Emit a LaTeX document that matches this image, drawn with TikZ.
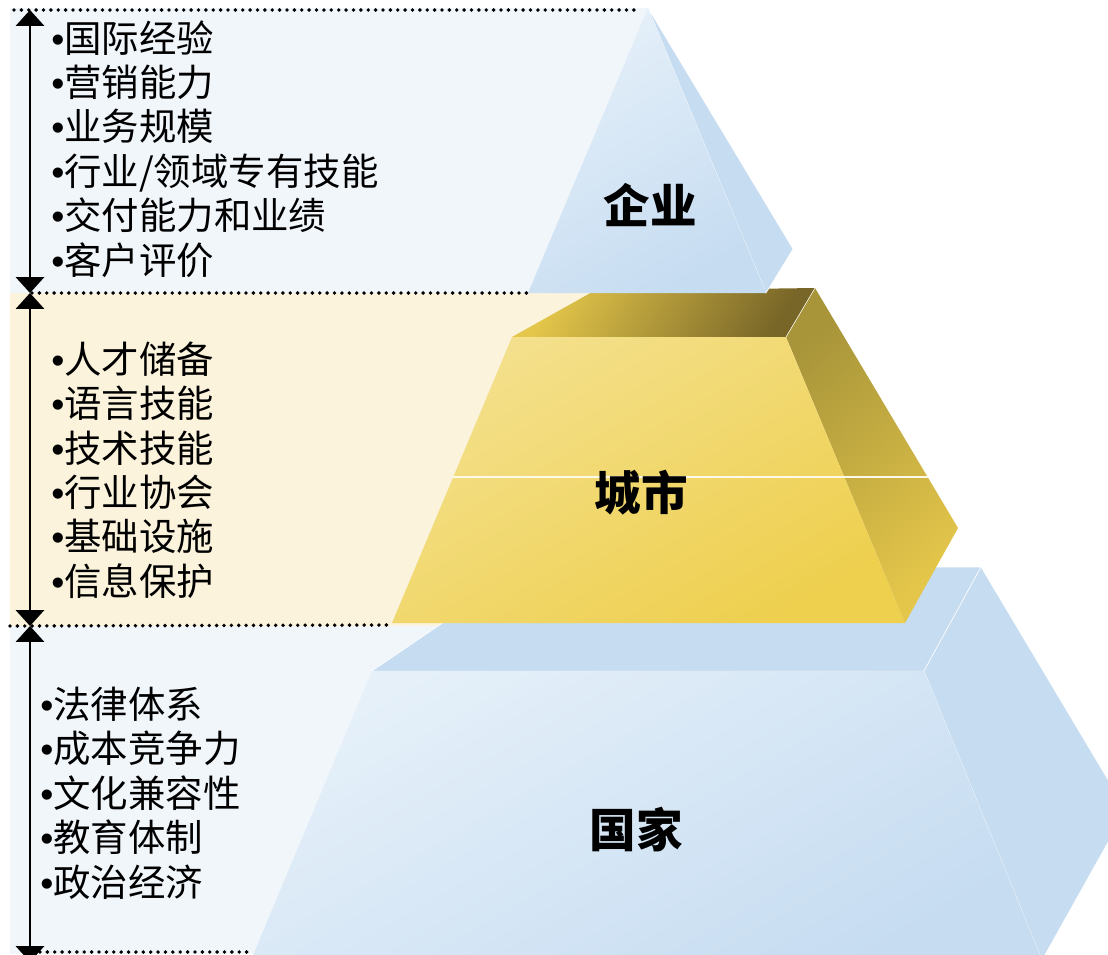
\documentclass[tikz,border=0pt]{standalone}
\usepackage{fontspec}
\setmainfont{Liberation Sans}
\newfontfamily\cjk{Noto Sans CJK SC}
\usetikzlibrary{arrows.meta}
\definecolor{bandblue}{HTML}{F1F6FB}
\definecolor{bandcream}{HTML}{FBF3DC}
\definecolor{blueface}{HTML}{C6DCF1}
\definecolor{bluelight}{HTML}{E5F0F9}
\definecolor{goldlight}{HTML}{F4E08C}
\definecolor{golddark}{HTML}{EECF4E}
\definecolor{goldtop}{HTML}{E4C64A}
\definecolor{olive}{HTML}{786628}
\definecolor{oliveside}{HTML}{A8953A}
\newcommand\bul{{\rmfamily\textbullet}}
\tikzset{
  dotline/.style={line width=2.2pt,line cap=round,dash pattern=on 0pt off 4.2pt},
  bothtips/.style={{Triangle[width=16pt,length=9pt]}-{Triangle[width=16pt,length=9pt]},line width=1.2pt},
  listtext/.style={anchor=west,inner sep=0pt,align=left,font=\cjk\fontsize{21.3}{25.3}\selectfont},
  tiertext/.style={inner sep=0pt,font=\cjk\bfseries\fontsize{26.5}{30}\selectfont}
}

\begin{document}
\begin{tikzpicture}[x=0.02cm,y=-0.02cm]
  \useasboundingbox (0,0) rectangle (1108,954);
  \clip (0,0) rectangle (1108,954);
  \fill[bandblue] (10,8) rectangle (648,293);
  \fill[bandcream] (10,293) rectangle (600,626);
  \fill[bandblue] (10,626) rectangle (450,954);
  \coordinate (d1) at (14,10);
  \coordinate (d2) at (640,10);
  \coordinate (d3) at (32,293);
  \coordinate (d4) at (528,293);
  \coordinate (d5) at (10,626);
  \coordinate (d6) at (390,625);
  \coordinate (d7) at (40,952);
  \coordinate (d8) at (248,952);
  \draw[dotline] (d1) -- (d2);
  \draw[dotline] (d3) -- (d4);
  \draw[dotline] (d5) -- (d6);
  \draw[dotline] (d7) -- (d8);
  \coordinate (r1) at (30,10);
  \coordinate (r2) at (30,293);
  \coordinate (r3) at (30,626);
  \coordinate (r4) at (30,962);
  \draw[bothtips] (r1) -- (r2);
  \draw[bothtips] (r2) -- (r3);
  \draw[bothtips] (r3) -- (r4);
  % nation
  \coordinate (n1) at (372,671);
  \coordinate (n2) at (924,671);
  \coordinate (n3) at (981,567);
  \coordinate (n4) at (525,567);
  \coordinate (n5) at (1126,810);
  \coordinate (n6) at (1042,960);
  \coordinate (n7) at (251,960);
  \filldraw[fill=blueface,draw=white,line width=0.3pt]
    (n1) -- (n4) -- (n3) -- (n2) -- cycle;
  \filldraw[fill=blueface,draw=white,line width=0.3pt]
    (n2) -- (n3) -- (n5) -- (n6) -- cycle;
  \shade[top color=bluelight,bottom color=blueface,shading angle=30]
    (n1) -- (n2) -- (n6) -- (n7) -- cycle;
  % city
  \coordinate (c1) at (512,337);
  \coordinate (c2) at (786,337);
  \coordinate (c3) at (815,288);
  \coordinate (c4) at (594,291);
  \coordinate (c5) at (958,528);
  \coordinate (c6) at (905,623);
  \coordinate (c7) at (392,623);
  \coordinate (c8) at (453,477);
  \coordinate (c9) at (928,477);
  \shade[top color=goldtop,bottom color=olive,shading angle=60]
    (c1) -- (c4) -- (c3) -- (c2) -- cycle;
  \shade[top color=oliveside,bottom color=goldtop,shading angle=40]
    (c2) -- (c3) -- (c5) -- (c6) -- cycle;
  \shade[top color=goldlight,bottom color=golddark,shading angle=30]
    (c1) -- (c2) -- (c6) -- (c7) -- cycle;
  \draw[white,line width=0.3pt] (c2) -- (c3);
  \draw[white!80!goldlight,line width=0.8pt] (c8) -- (c9);
  % enterprise
  \coordinate (e1) at (648,8);
  \coordinate (e2) at (793,249);
  \coordinate (e3) at (766,293);
  \coordinate (e4) at (528,293);
  \filldraw[fill=blueface,draw=white,line width=0.3pt]
    (e1) -- (e2) -- (e3) -- cycle;
  \shade[top color=bluelight,bottom color=blueface,shading angle=30]
    (e1) -- (e3) -- (e4) -- cycle;
  \node[tiertext] (qiye) at (650,205) {企业};
  \node[tiertext] (chengshi) at (641,493) {城市};
  \node[tiertext] (guojia) at (636,830) {国家};
  \node[listtext] (l1) at (51,149)
    {\bul 国际经验\\\bul 营销能力\\\bul 业务规模\\\bul 行业/领域专有技能\\\bul 交付能力和业绩\\\bul 客户评价};
  \node[listtext] (l2) at (51,470)
    {\bul 人才储备\\\bul 语言技能\\\bul 技术技能\\\bul 行业协会\\\bul 基础设施\\\bul 信息保护};
  \node[listtext] (l3) at (40,793)
    {\bul 法律体系\\\bul 成本竞争力\\\bul 文化兼容性\\\bul 教育体制\\\bul 政治经济};
\end{tikzpicture}
\end{document}
